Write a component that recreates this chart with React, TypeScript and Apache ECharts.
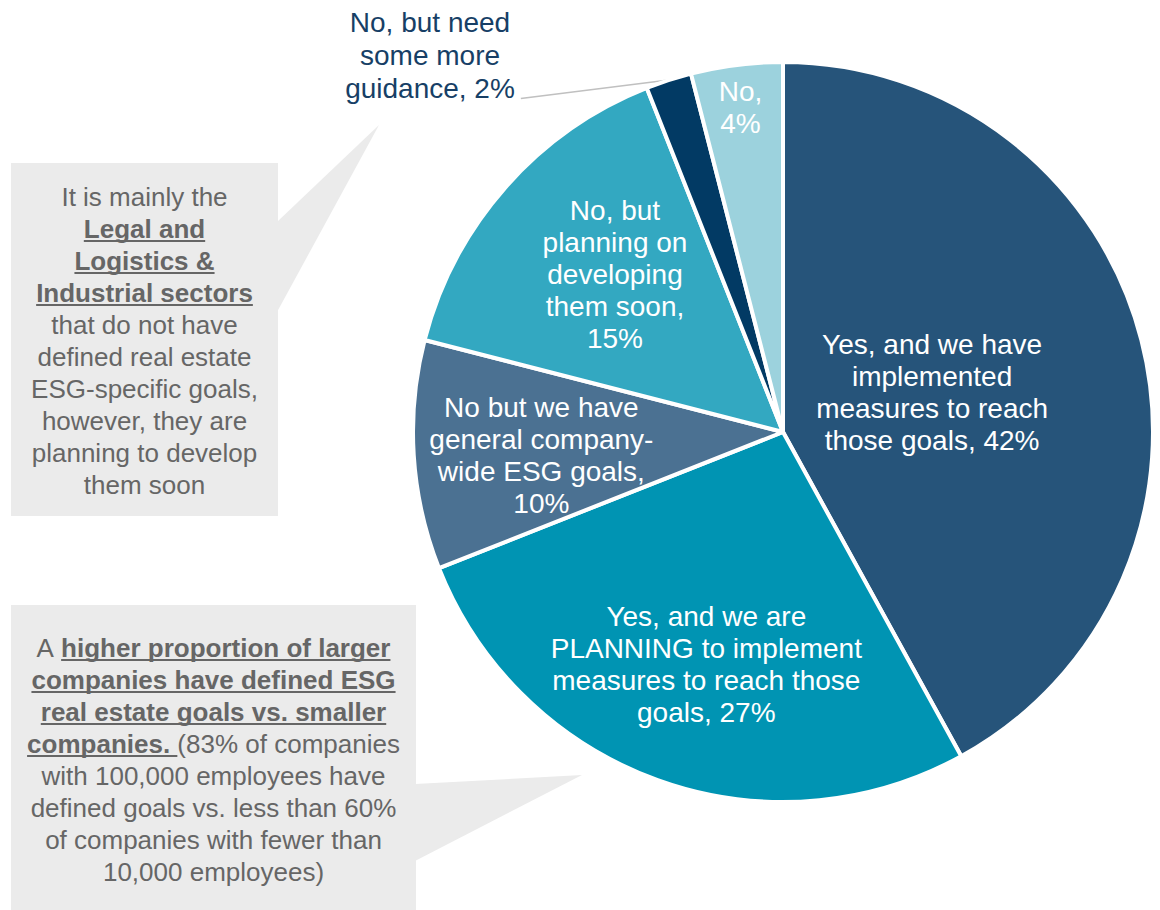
import React, { useEffect, useRef } from "react";
import * as echarts from "echarts";

// ---- data ----
const categories = [
  "Yes, and we have\nimplemented\nmeasures to reach\nthose goals",
  "Yes, and we are\nPLANNING to implement\nmeasures to reach those\ngoals",
  "No but we have\ngeneral company-\nwide ESG goals",
  "No, but\nplanning on\ndeveloping\nthem soon",
  "No, but need\nsome more\nguidance",
  "No",
];
const values = [42, 27, 10, 15, 2, 4];
const colors = ["#26547A", "#0094B3", "#4B7192", "#33A8C1", "#023A64", "#9CD2DD"];
const valueSeparators = [" ", " ", "\n", "\n", " ", "\n"];

type Seg = { t: string; u?: boolean };
const callout1Lines: Seg[][] = [
  [{ t: "It is mainly the" }],
  [{ t: "Legal and", u: true }],
  [{ t: "Logistics &", u: true }],
  [{ t: "Industrial sectors", u: true }],
  [{ t: "that do not have" }],
  [{ t: "defined real estate" }],
  [{ t: "ESG-specific goals," }],
  [{ t: "however, they are" }],
  [{ t: "planning to develop" }],
  [{ t: "them soon" }],
];
const callout2Lines: Seg[][] = [
  [{ t: "A " }, { t: "higher proportion of larger", u: true }],
  [{ t: "companies have defined ESG", u: true }],
  [{ t: "real estate goals vs. smaller", u: true }],
  [{ t: "companies. ", u: true }, { t: "(83% of companies" }],
  [{ t: "with 100,000 employees have" }],
  [{ t: "defined goals vs. less than 60%" }],
  [{ t: "of companies with fewer than" }],
  [{ t: "10,000 employees)" }],
];

// ---- layout / style ----
const FONT = "Liberation Sans";
const TEXT_GRAY = "#666666";
const BOX_FILL = "#EBEBEB";
const CENTER: [number, number] = [783, 432];
const RADIUS = 370;
const labelShift: ([number, number] | null)[] = [
  [-33, 7],
  [-13, 56],
  [-54, 12],
  [-27, -33],
  null,
  [-19, -138],
];
const outsideLabelPos: [number, number] = [430, 55];

function measure(text: string, bold: boolean, size: number) {
  const c = document.createElement("canvas").getContext("2d")!;
  c.font = `${bold ? "bold " : ""}${size}px "${FONT}"`;
  return c.measureText(text).width;
}

function calloutText(lines: Seg[][], cx: number, y0: number, step: number) {
  const size = 26;
  const els: any[] = [];
  lines.forEach((line, i) => {
    const y = y0 + i * step;
    const widths = line.map((s) => measure(s.t, !!s.u, size));
    const total = widths.reduce((a, b) => a + b, 0);
    let x = cx - total / 2;
    line.forEach((s, j) => {
      els.push({
        type: "text",
        x,
        y,
        style: {
          text: s.t,
          fill: TEXT_GRAY,
          fontSize: size,
          fontFamily: FONT,
          fontWeight: s.u ? "bold" : "normal",
          align: "left",
          verticalAlign: "middle",
        },
      });
      if (s.u) {
        els.push({
          type: "line",
          shape: { x1: x, y1: y + 12, x2: x + widths[j], y2: y + 12 },
          style: { stroke: TEXT_GRAY, lineWidth: 2 },
        });
      }
      x += widths[j];
    });
  });
  return els;
}

export default function App() {
  const ref = useRef<HTMLDivElement>(null);
  useEffect(() => {
    if (!ref.current) return;
    const chart = echarts.init(ref.current, undefined, { renderer: "svg" });

    const data = categories.map((name, i) => {
      const item: any = {
        name,
        value: values[i],
        itemStyle: { color: colors[i] },
      };
      if (i === 4) {
        item.label = {
          position: "outside",
          color: "#173F66",
          lineHeight: 33,
        };
        item.labelLine = {
          show: true,
          length: 20,
          length2: 20,
          lineStyle: { color: "#C0C0C0", width: 1.5 },
        };
      }
      return item;
    });

    const graphics = [
      { type: "rect", shape: { x: 11, y: 163, width: 267, height: 353 }, style: { fill: BOX_FILL } },
      { type: "polygon", shape: { points: [[277, 222], [379, 125], [277, 312]] }, style: { fill: BOX_FILL } },
      { type: "rect", shape: { x: 11, y: 605, width: 405, height: 320 }, style: { fill: BOX_FILL } },
      { type: "polygon", shape: { points: [[415, 784], [582, 775], [415, 861]] }, style: { fill: BOX_FILL } },
      ...calloutText(callout1Lines, 144.5, 197, 32),
      ...calloutText(callout2Lines, 213.5, 648, 32),
    ];

    chart.setOption({
      animation: false,
      backgroundColor: "#ffffff",
      graphic: { elements: graphics },
      series: [
        {
          type: "pie",
          center: CENTER,
          radius: RADIUS,
          startAngle: 90,
          clockwise: true,
          avoidLabelOverlap: false,
          silent: true,
          itemStyle: { borderColor: "#ffffff", borderWidth: 4 },
          label: {
            show: true,
            position: "inside",
            color: "#ffffff",
            fontFamily: FONT,
            fontSize: 28,
            lineHeight: 32,
            align: "center",
            formatter: (p: any) => `${p.name},${valueSeparators[p.dataIndex]}${p.value}%`,
          },
          labelLine: { show: false },
          labelLayout: (params: any) => {
            const i = params.dataIndex;
            const s = labelShift[i];
            if (s) return { dx: s[0], dy: s[1] };
            const w = params.labelRect.width;
            const h = params.labelRect.height;
            const start = params.labelLinePoints ? params.labelLinePoints[0] : [668, 80];
            const end = [outsideLabelPos[0] + w / 2 + 6, outsideLabelPos[1] + h / 2 - 6];
            const mid = [(start[0] + end[0]) / 2, (start[1] + end[1]) / 2];
            return {
              x: outsideLabelPos[0],
              y: outsideLabelPos[1],
              align: "center",
              verticalAlign: "middle",
              labelLinePoints: [start, mid, end],
            };
          },
          data,
        },
      ],
    });
    return () => chart.dispose();
  }, []);
  return (
    <div
      ref={ref}
      style={{ position: "absolute", left: 0, top: 0, width: 1160, height: 910 }}
    />
  );
}
